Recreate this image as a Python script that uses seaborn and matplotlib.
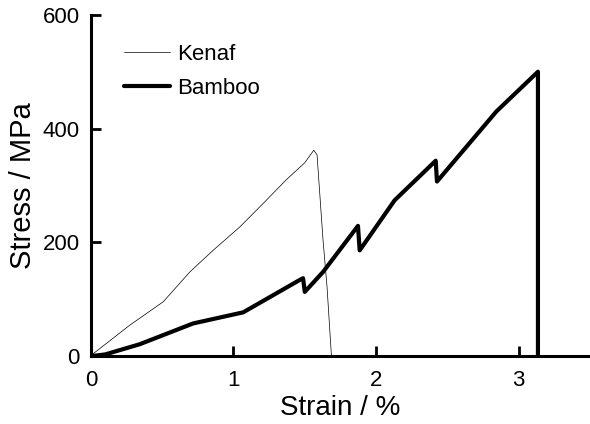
import matplotlib
matplotlib.use("Agg")
import matplotlib.pyplot as plt
import seaborn as sns
import pandas as pd

# Stress-strain curves of natural fibre bundles
kenaf_strain = [0.0, 0.02, 0.273, 0.507, 0.694, 0.857, 1.044, 1.23, 1.37, 1.50, 1.563, 1.586, 1.605, 1.628, 1.656, 1.687]
kenaf_stress = [0, 5, 54.5, 95.5, 148, 186, 227, 274, 310, 340, 362, 354, 286, 204, 122, 0]

bamboo_strain = [0.0, 0.1, 0.343, 0.717, 1.068, 1.465, 1.488, 1.50, 1.628, 1.873, 1.885, 2.13, 2.418, 2.427, 2.843, 3.135, 3.135]
bamboo_stress = [0, 3, 21, 57.5, 77, 134, 137, 113, 148, 229, 186, 274, 343.5, 307, 430, 500, 0]

x_ticks = [0, 1, 2, 3]
y_ticks = [0, 200, 400, 600]

kenaf = pd.DataFrame({"strain": kenaf_strain, "stress": kenaf_stress})
bamboo = pd.DataFrame({"strain": bamboo_strain, "stress": bamboo_stress})

sns.set_style("ticks")
plt.rcParams["font.family"] = ["Liberation Sans", "DejaVu Sans"]
plt.rcParams["text.color"] = "black"
plt.rcParams["axes.labelcolor"] = "black"

fig = plt.figure(figsize=(5.9, 4.24), dpi=100)
ax = fig.add_axes([0.154, 0.160, 0.846, 0.805])

sns.lineplot(data=kenaf, x="strain", y="stress", sort=False, estimator=None,
             color="black", linewidth=0.5, ax=ax, label="Kenaf")
sns.lineplot(data=bamboo, x="strain", y="stress", sort=False, estimator=None,
             color="black", linewidth=3.0, ax=ax, label="Bamboo")

ax.set_xlim(0, 3.5)
ax.set_ylim(0, 600)
ax.set_xticks(x_ticks)
ax.set_yticks(y_ticks)
ax.set_xticklabels([str(t) for t in x_ticks])
ax.set_yticklabels([str(t) for t in y_ticks])

for side in ("top", "right"):
    ax.spines[side].set_visible(False)
for side in ("left", "bottom"):
    ax.spines[side].set_linewidth(2.2)
    ax.spines[side].set_color("black")

ax.tick_params(axis="both", direction="in", length=7, width=2.0,
               labelsize=16, colors="black")
ax.tick_params(axis="x", pad=10)
ax.tick_params(axis="y", pad=8)

ax.set_xlabel("Strain / %", fontsize=20, labelpad=3, color="black")
ax.set_ylabel("Stress / MPa", fontsize=21, labelpad=4, color="black")

leg = ax.legend(loc="upper left", bbox_to_anchor=(0.066, 0.915), frameon=False,
                fontsize=16, handlelength=2.1, handletextpad=0.3,
                labelspacing=0.58, borderaxespad=0, borderpad=0)
for t in leg.get_texts():
    t.set_color("black")

fig.savefig("out.png", dpi=100)
